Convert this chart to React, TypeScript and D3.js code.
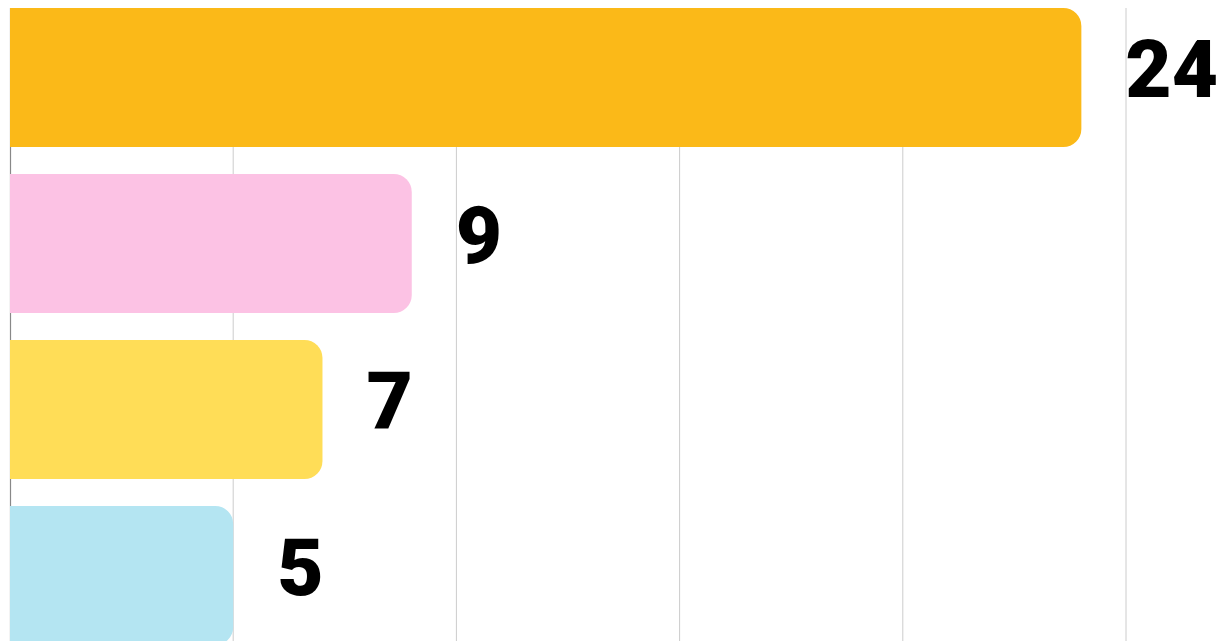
import React from "react";
import * as d3 from "d3";

const categories = ["A", "B", "C", "D"];
const values = [24, 9, 7, 5];
const colors = ["#FBB918", "#FCC2E4", "#FFDD57", "#B4E5F2"];
const gridTicks = [5, 10, 15, 20, 25];

export default function App() {
  const W = 1224;
  const H = 641;
  const x = d3.scaleLinear().domain([0, 25]).range([10, 1126]);
  const y = d3.scaleBand<string>().domain(categories).range([8, 645]).paddingInner(27 / 166).paddingOuter(0);
  const r = 18;
  const barPath = (v: number, c: string) => {
    const x0 = x(0);
    const x1 = x(v);
    const y0 = y(c)!;
    const h = y.bandwidth();
    const p = d3.path();
    p.moveTo(x0, y0);
    p.lineTo(x1 - r, y0);
    p.arcTo(x1, y0, x1, y0 + r, r);
    p.lineTo(x1, y0 + h - r);
    p.arcTo(x1, y0 + h, x1 - r, y0 + h, r);
    p.lineTo(x0, y0 + h);
    p.closePath();
    return p.toString();
  };
  return (
    <div style={{ position: "fixed", left: 0, top: 0, width: W, height: H, background: "#fff" }}>
      <svg width={W} height={H} style={{ display: "block" }}>
        {gridTicks.map((t) => (
          <line key={t} x1={x(t)} x2={x(t)} y1={8} y2={645} stroke="#cccccc" strokeWidth={1} />
        ))}
        <line x1={x(0) + 0.5} x2={x(0) + 0.5} y1={8} y2={645} stroke="#888888" strokeWidth={1.2} />
        {categories.map((c, i) => (
          <path key={c} d={barPath(values[i], c)} fill={colors[i]} />
        ))}
        {categories.map((c, i) => (
          <text
            key={c + "l"}
            x={x(values[i]) + 44}
            y={y(c)! + y.bandwidth() / 2 - 8}
            dominantBaseline="central"
            fontFamily="Roboto, 'DejaVu Sans', sans-serif"
            fontWeight={900}
            fontSize={80}
            fill="#000"
          >
            {values[i]}
          </text>
        ))}
      </svg>
    </div>
  );
}
